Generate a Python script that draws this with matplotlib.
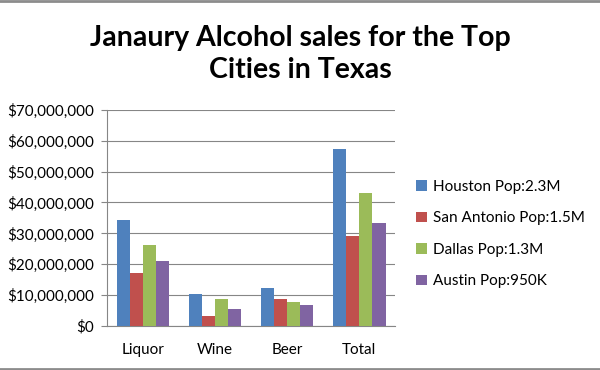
import numpy as np
import matplotlib
matplotlib.use('Agg')
import matplotlib.pyplot as plt
from matplotlib.ticker import FuncFormatter

plt.rcParams['font.family'] = ['Lato', 'DejaVu Sans']

# data (dollars)
categories = ['Liquor', 'Wine', 'Beer', 'Total']
cities = ['Houston Pop:2.3M', 'San Antonio Pop:1.5M', 'Dallas Pop:1.3M', 'Austin Pop:950K']
houston = [34.3e6, 10.5e6, 12.3e6, 57.4e6]
san_antonio = [17.3e6, 3.2e6, 8.6e6, 29.3e6]
dallas = [26.3e6, 8.6e6, 7.8e6, 43.0e6]
austin = [21.0e6, 5.4e6, 6.7e6, 33.3e6]
colors = ['#4F81BD', '#C0504D', '#9BBB59', '#8064A2']

series = [houston, san_antonio, dallas, austin]

fig = plt.figure(figsize=(6, 3.7), dpi=100)
ax = fig.add_axes([0.178, 0.119, 0.481, 0.584])

x = np.arange(len(categories))
w = 1 / 5.5
for i, (vals, name) in enumerate(zip(series, cities)):
    ax.bar(x + (i - 1.5) * w, vals, width=w, color=colors[i], label=name, zorder=3)

ax.set_xlim(-0.5, 3.5)
ax.set_ylim(0, 70e6)
ax.set_yticks(np.arange(0, 70e6 + 1, 10e6))
ax.yaxis.set_major_formatter(FuncFormatter(lambda v, p: '${:,.0f}'.format(v)))
ax.set_xticks(x)
ax.set_xticklabels(categories)
ax.tick_params(axis='y', length=4, color='#868686', labelsize=11, pad=5)
ax.tick_params(axis='x', length=0, labelsize=11, pad=12)
ax.grid(axis='y', color='#868686', linewidth=0.8, zorder=0)
for s in ['top', 'right']:
    ax.spines[s].set_visible(False)
for s in ['left', 'bottom']:
    ax.spines[s].set_color('#868686')

fig.text(0.5, 0.855, 'Janaury Alcohol sales for the Top\nCities in Texas',
         ha='center', va='center', fontsize=20.5, fontweight='bold', linespacing=1.3)

ax.legend(loc='upper left', bbox_to_anchor=(1.05, 0.705), frameon=False,
          fontsize=11, handlelength=0.7, handleheight=0.7, handletextpad=0.4,
          labelspacing=1.15, borderaxespad=0)

# frame lines at top and bottom of the picture
fig.add_artist(plt.Line2D([0, 1], [0.997, 0.997], color='#8c8c8c', linewidth=2, transform=fig.transFigure))
fig.add_artist(plt.Line2D([0, 1], [0.003, 0.003], color='#8c8c8c', linewidth=2, transform=fig.transFigure))

fig.savefig('out.png', dpi=100)
